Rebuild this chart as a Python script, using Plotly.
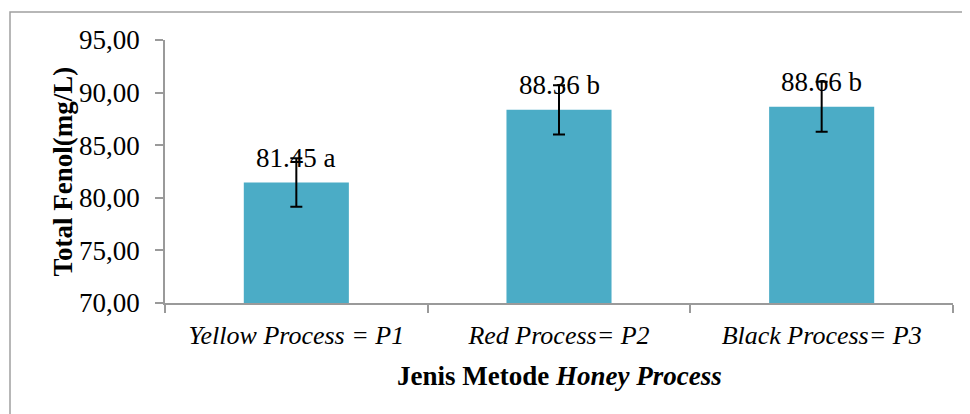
import plotly.graph_objects as go

categories = ["Yellow Process = P1", "Red Process= P2", "Black Process= P3"]
total_fenol = [81.45, 88.36, 88.66]
error_sd = [2.30, 2.35, 2.37]
notasi = ["a", "b", "b"]
y_ticks = [70, 75, 80, 85, 90, 95]

FONT = "Liberation Serif, Times New Roman, serif"
BAR_COLOR = "#4BACC6"
AXIS_GRAY = "#9a9a9a"

fig = go.Figure()

fig.add_trace(go.Bar(
    x=categories,
    y=total_fenol,
    width=0.4,
    marker=dict(color=BAR_COLOR, line=dict(width=0)),
    error_y=dict(type="data", array=error_sd, visible=True,
                 color="black", thickness=2, width=6),
    showlegend=False,
))

# data labels above each bar
for cat, val, lab in zip(categories, total_fenol, notasi):
    fig.add_annotation(
        x=cat, y=val, text=f"{val:.2f} {lab}",
        showarrow=False, yanchor="middle", yshift=25,
        font=dict(family=FONT, size=27, color="black"),
    )

# axis titles
fig.add_annotation(
    xref="paper", yref="paper", x=-0.1307, y=0.5,
    xanchor="center", yanchor="middle",
    text="<b>Total Fenol(mg/L)</b>", textangle=-90, showarrow=False,
    font=dict(family=FONT, size=27, color="black"),
)
fig.add_annotation(
    xref="paper", yref="paper", x=0.5, y=-0.2776,
    xanchor="center", yanchor="middle",
    text="<b>Jenis Metode <i>Honey Process</i></b>", showarrow=False,
    font=dict(family=FONT, size=27, color="black"),
)

# outer chart border
fig.add_shape(
    type="rect", xref="paper", yref="paper",
    x0=-0.1967, x1=1.0152, y0=-0.45, y1=1.1065,
    line=dict(color="#a0a0a0", width=1.5), layer="below",
)

fig.update_layout(
    width=970, height=414,
    margin=dict(l=157, r=25, t=32, b=119),
    paper_bgcolor="white", plot_bgcolor="white",
    separators=",.",
    bargap=0.6,
    font=dict(family=FONT, color="black"),
)

fig.update_xaxes(
    type="category",
    showline=True, linecolor=AXIS_GRAY, linewidth=1.5,
    ticks="outside", tickson="boundaries", ticklen=8,
    tickcolor=AXIS_GRAY, tickwidth=1.5, ticklabelstandoff=8,
    tickfont=dict(family=FONT, size=26, color="black", style="italic"),
    showgrid=False, automargin=False,
)
fig.update_yaxes(
    range=[70, 95], tickvals=y_ticks, tickformat=".2f",
    showline=True, linecolor=AXIS_GRAY, linewidth=1.5,
    ticks="outside", ticklen=8, tickcolor=AXIS_GRAY, tickwidth=1.5,
    ticklabelstandoff=10,
    tickfont=dict(family=FONT, size=27, color="black"),
    showgrid=False, zeroline=False, automargin=False,
)

fig.write_html("out.html")
